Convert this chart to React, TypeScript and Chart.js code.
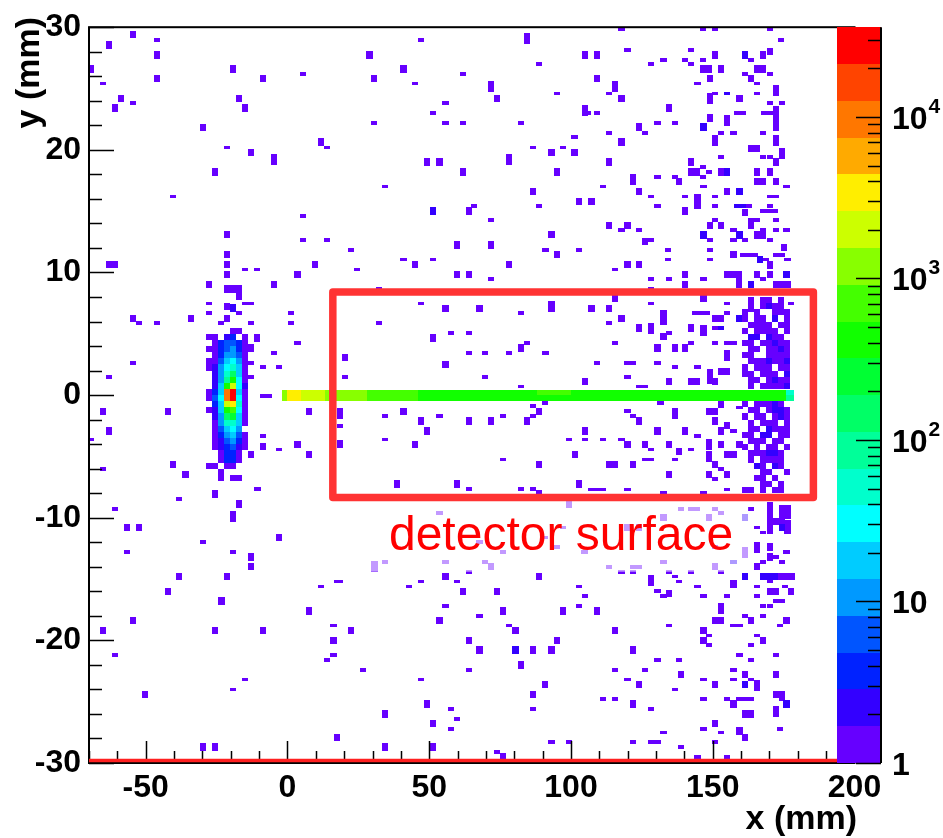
import React, { useEffect, useRef } from 'react';
import { Chart, registerables } from 'chart.js';

Chart.register(...registerables);

const FONT = '"Liberation Sans", Arial, Helvetica, sans-serif';

// ---------- axes ----------
const X_RANGE = [-70, 200];
const Y_RANGE = [-30, 30];
const X_TICKS = [-50, 0, 50, 100, 150, 200];
const Y_TICKS = [-30, -20, -10, 0, 10, 20, 30];
const X_MINOR_STEP = 10;
const Y_MINOR_STEP = 2;
const Z_MAX = 35970;
const Z_DECADES = [0, 1, 2, 3, 4];
const PALETTE = [
  '#6600ff', '#3300ff', '#0022ff', '#0055ff', '#0099ff',
  '#00ccff', '#00ffff', '#00ffcc', '#00ff99', '#00ff66',
  '#00ff33', '#11ff00', '#44ff00', '#88ff00', '#ccff00',
  '#ffee00', '#ffaa00', '#ff7700', '#ff4400', '#ff0000',
];

// ---------- histogram bins ----------
const BIN_W = 2.2;   // mm
const BIN_H = 0.3;   // mm

// target spot (counts), columns x, rows y
const CLUSTER_X = [-27.6, -25.5, -23.4, -21.3, -19.2, -17.1, -15.0];
const CLUSTER_Y = [5.25, 4.75, 4.25, 3.75, 3.25, 2.75, 2.25, 1.75, 1.25, 0.75, 0.25, -0.25, -0.75, -1.25, -1.75, -2.25, -2.75, -3.25, -3.75, -4.25, -4.75, -5.25, -5.75, -6.25, -6.75];
const CLUSTER_COUNTS = [
  [0, 0, 0, 0, 1, 1, 0],
  [1, 1, 0, 2, 4, 0, 1],
  [0, 1, 4, 6, 6, 4, 1],
  [1, 1, 4, 6, 10, 4, 1],
  [0, 1, 4, 10, 10, 6, 1],
  [1, 1, 6, 18, 30, 10, 1],
  [1, 2, 10, 30, 50, 18, 1],
  [0, 2, 10, 50, 150, 18, 1],
  [0, 2, 10, 90, 420, 30, 1],
  [0, 2, 18, 420, 2000, 30, 2],
  [1, 4, 18, 9500, 28000, 18, 1],
  [1, 6, 30, 9500, 24000, 30, 1],
  [0, 4, 18, 2000, 3400, 50, 1],
  [1, 2, 18, 420, 700, 30, 1],
  [0, 2, 10, 150, 250, 18, 1],
  [0, 1, 10, 50, 50, 18, 1],
  [0, 1, 6, 18, 30, 10, 0],
  [0, 1, 4, 10, 18, 6, 1],
  [0, 1, 2, 6, 10, 4, 1],
  [0, 1, 2, 4, 6, 2, 1],
  [0, 0, 1, 4, 4, 1, 0],
  [0, 0, 1, 4, 4, 1, 0],
  [1, 1, 0, 1, 1, 0, 0],
  [0, 0, 1, 0, 0, 0, 0],
  [0, 0, 1, 0, 1, 1, 0],
];
const CLUSTER_H = 0.5;

// beam track along y = 0 (run-length: x edges, counts per run)
const BEAM_EDGES = [-2, 0, 4.8, 13.2, 17.5, 28, 46, 88, 100, 176, 178.5];
const BEAM_UPPER = [1200, 3400, 2000, 1200, 1200, 700, 420, 700, 420, 50];
const BEAM_LOWER = [1200, 3400, 2000, 1200, 1200, 700, 420, 420, 420, 90];
const BEAM_Y_EDGES = [-0.47, -0.02, 0.43];

// dense hits near the detector end
const DENSE_X = [161.5, 163.6, 165.7, 167.8, 169.9, 172.0, 174.1, 176.2];
const DENSE_Y = [7.75, 7.25, 6.75, 6.25, 5.75, 5.25, 4.75, 4.25, 3.75, 3.25, 2.75, 2.25, 1.75, 1.25, 0.75,
  -0.75, -1.25, -1.75, -2.25, -2.75, -3.25, -3.75, -4.25, -4.75, -5.25, -5.75, -6.25, -6.75, -7.25, -7.75];
const DENSE_COUNTS = [
  [0, 1, 0, 1, 1, 0, 1, 0],
  [0, 1, 0, 1, 2, 1, 1, 0],
  [1, 0, 1, 0, 0, 1, 1, 1],
  [1, 0, 1, 1, 0, 2, 0, 1],
  [0, 1, 1, 1, 1, 0, 1, 1],
  [1, 0, 1, 1, 1, 1, 0, 1],
  [0, 2, 2, 0, 2, 1, 1, 0],
  [1, 1, 0, 1, 1, 2, 1, 1],
  [0, 1, 1, 0, 1, 1, 2, 1],
  [1, 1, 0, 0, 1, 1, 1, 1],
  [0, 1, 1, 1, 2, 1, 1, 2],
  [1, 0, 1, 1, 1, 0, 1, 1],
  [1, 1, 0, 1, 1, 1, 0, 2],
  [0, 1, 1, 0, 1, 2, 1, 1],
  [0, 1, 0, 1, 1, 1, 1, 2],
  [1, 0, 1, 1, 1, 2, 1, 0],
  [0, 1, 1, 0, 1, 2, 2, 1],
  [1, 0, 1, 1, 0, 1, 2, 1],
  [0, 1, 0, 1, 1, 1, 0, 1],
  [0, 1, 1, 0, 2, 1, 1, 1],
  [1, 1, 0, 2, 2, 0, 1, 1],
  [0, 1, 1, 1, 0, 1, 1, 0],
  [1, 0, 1, 0, 1, 1, 0, 1],
  [0, 1, 1, 1, 2, 2, 1, 0],
  [0, 1, 0, 1, 1, 1, 1, 0],
  [0, 0, 2, 1, 0, 2, 1, 0],
  [0, 0, 0, 1, 1, 0, 0, 1],
  [0, 0, 1, 1, 0, 1, 0, 0],
  [0, 0, 0, 1, 1, 0, 1, 0],
  [1, 1, 0, 1, 0, 1, 1, 0],
];
const DENSE_H = 0.5;

// scattered single hits: [x, y] (one bin)
const HITS_1: [number, number][] = [
  [-46.0, 28.95], [-65.1, 25.4], [5.6, 26.2], [-54.4, 23.8], [14.0, 20.2], [-21.3, 20.2], [-40.4, 16.2], [5.6, 14.6], [5.6, 12.66], [14.0, 12.66],
  [-15.0, 10.25], [-10.8, 10.25], [-17.1, 8.15], [-17.1, 7.9], [-15.0, 7.47], [-12.9, 7.47], [-27.7, 7.47], [-27.7, 6.67], [-17.1, 6.67], [1.35, 6.67],
  [-52.3, 5.86], [-46.0, 5.86], [-23.5, 5.86], [-12.9, 5.86], [1.35, 5.86], [3.5, 4.25], [-4.8, 3.44], [-54.4, 2.63], [-63.0, 1.5], [-8.6, 2.3],
  [-3.0, 2.3], [-12.9, 2.63], [-12.9, 1.5], [-8.6, -0.1], [-6.5, -0.1],
  [-69.2, -3.63], [-8.5, -3.33], [-2.9, -4.44], [-65.1, -6.05], [-10.6, -7.66], [-38.2, -8.47], [-60.8, -9.27], [-29.8, -12.0], [-56.6, -12.8], [-19.1, -12.8],
  [11.9, -15.6], [17.6, -15.2], [16.2, -18.8], [-60.8, -21.2], [16.2, -21.2], [14.0, -21.6], [-14.9, -23.2], [-19.1, -24.0],
  [47.2, 28.95], [88.8, 27.0], [62.0, 26.2], [45.1, 25.4], [95.2, 24.6], [55.7, 23.8], [51.4, 23.0], [30.6, 22.2], [55.7, 22.2], [62.0, 22.2],
  [82.5, 22.2], [101.2, 21.05], [86.7, 20.2], [97.3, 20.2], [34.5, 17.0], [65.9, 15.4], [88.8, 15.4], [71.9, 14.3], [22.5, 11.85], [91.0, 11.85],
  [102.9, 11.85], [40.9, 11.05], [51.4, 11.05], [24.6, 10.24], [71.9, 9.44], [32.4, 8.7], [47.2, 7.47], [82.5, 6.67], [32.4, 5.86], [57.8, 5.05],
  [64.1, 5.05], [84.6, 4.25], [64.1, 3.44], [69.8, 3.44], [78.2, 3.44], [91.0, 3.44], [20.4, 1.5], [69.8, 1.5], [82.5, 0.7],
  [86.7, -0.91], [86.7, -1.72], [18.5, -2.5], [34.5, -1.72], [53.6, -1.72], [76.1, -1.72], [34.5, -3.63], [99.4, -3.63], [105.0, -3.63], [76.1, -5.24],
  [64.1, -7.66], [82.5, -7.66], [86.7, -7.66], [88.8, -7.9], [53.6, -9.6], [97.3, -10.8], [90.9, -11.6], [95.2, -12.4], [76.1, -12.8], [67.7, -12.0],
  [34.5, -13.6], [55.7, -13.6], [69.8, -13.6], [104.8, -12.8], [18.5, -15.2], [64.1, -14.4], [43.0, -15.6], [47.2, -15.2], [59.9, -15.2], [102.9, -15.6],
  [105.0, -16.4], [55.7, -17.2], [67.7, -18.0], [102.9, -17.2], [78.2, -18.8], [26.7, -22.4], [64.1, -22.4], [47.2, -23.2], [57.8, -25.6], [86.7, -25.6],
  [59.9, -26.4], [57.8, -27.2], [74.0, -29.1], [93.1, -28.3], [99.4, -28.3],
  [117.8, 29.85], [146.6, 29.85], [150.8, 29.85], [170.1, 29.85], [174.0, 28.95], [119.9, 28.15], [142.4, 28.15], [163.6, 27.3], [128.3, 27.0], [132.6, 27.3],
  [140.3, 27.3], [142.4, 27.0], [146.6, 27.3], [161.5, 26.2], [170.1, 26.2], [144.6, 25.4], [165.7, 25.4], [113.5, 24.6], [150.8, 24.6], [165.7, 24.6],
  [170.1, 23.8], [174.3, 23.8], [172.2, 23.4], [172.2, 23.15], [172.2, 22.9], [172.2, 22.65], [172.2, 22.4], [172.2, 22.15], [172.2, 21.9], [172.2, 21.65],
  [168.0, 23.0], [170.1, 23.0], [106.0, 23.0], [109.3, 23.0], [158.6, 23.0], [160.7, 23.0], [130.5, 22.2], [136.8, 22.2], [126.2, 21.4], [113.5, 21.4],
  [153.0, 21.4], [157.3, 21.4], [167.8, 21.4], [167.8, 19.4], [170.1, 19.4], [153.0, 19.4], [146.6, 18.6], [146.6, 17.8], [148.7, 18.2], [130.5, 17.8],
  [136.8, 17.8], [111.4, 17.0], [146.7, 17.0], [176.0, 17.0], [128.3, 16.2], [140.3, 16.2], [150.8, 16.2], [170.1, 16.2], [172.2, 16.2], [130.5, 15.4],
  [150.8, 15.4], [162.7, 15.4], [161.5, 15.0], [161.5, 14.75], [167.8, 15.0], [169.9, 15.0], [172.0, 15.0], [170.1, 15.4], [150.8, 14.3], [163.6, 14.3],
  [165.7, 14.3], [172.2, 14.3], [117.8, 13.45], [124.1, 13.45], [157.3, 13.45], [167.8, 13.45], [172.2, 13.45], [176.0, 13.45], [148.9, 12.66], [157.3, 12.66],
  [161.5, 12.66], [170.1, 12.66], [126.2, 12.66], [126.2, 12.4], [128.3, 12.66], [134.2, 11.85], [148.9, 11.85], [160.6, 11.45], [162.7, 11.45], [164.8, 11.45],
  [168.9, 11.05], [172.2, 11.45], [174.3, 11.45], [176.4, 11.05], [134.2, 11.05], [148.9, 11.05], [115.6, 10.24], [128.3, 9.44], [134.7, 9.44], [146.7, 9.44],
  [159.3, 9.44], [167.8, 9.44], [128.3, 8.7], [128.3, 7.47], [155.1, 7.47], [167.8, 7.47], [177.5, 7.47], [113.5, 5.86], [143.9, 6.67], [146.0, 6.67],
  [148.1, 6.67], [155.1, 6.67], [134.7, 5.05], [150.8, 5.46], [115.6, 4.25], [142.4, 4.25], [150.8, 4.25], [155.1, 4.25], [157.3, 4.25], [109.3, 2.63],
  [119.9, 2.63], [122.0, 2.63], [130.5, 2.63], [136.8, 2.3], [144.6, 2.3], [119.9, 1.5], [124.1, 0.7], [126.2, 0.7],
  [119.9, -1.32], [122.0, -1.72], [144.6, -3.33], [111.4, -3.63], [117.8, -3.63], [128.3, -4.44], [142.4, -4.44], [136.8, -5.24], [126.2, -5.24], [128.3, -5.24],
  [153.0, -6.0], [150.8, -6.85], [159.4, -1.0], [157.3, -2.93], [107.2, -7.7], [109.5, -7.7], [111.4, -7.7], [119.9, -7.7], [132.6, -8.0], [146.7, -8.0],
  [155.1, -7.7], [138.9, -9.3], [142.4, -9.3], [144.5, -9.3], [150.8, -9.3], [153.0, -9.6], [113.5, -14.0], [122.0, -14.0], [124.1, -14.0], [132.6, -13.6],
  [150.8, -12.4], [163.6, -9.3], [165.7, -10.8], [167.8, -11.2], [172.2, -13.2], [174.3, -13.6], [176.0, -12.8], [167.8, -13.6], [170.1, -15.2], [153.0, -14.4],
  [142.4, -14.4], [134.7, -14.4], [117.8, -14.4], [122.0, -14.4], [136.8, -14.8], [138.2, -15.2], [144.6, -15.6], [165.7, -15.6], [175.4, -15.6], [130.5, -16.0],
  [132.6, -16.4], [146.7, -16.4], [155.1, -16.4], [165.7, -16.4], [172.2, -16.8], [174.3, -16.8], [167.8, -17.2], [170.1, -17.2], [161.5, -18.0], [167.8, -18.0],
  [173.8, -18.8], [157.3, -18.8], [159.4, -18.8], [134.7, -18.8], [148.8, -19.6], [165.7, -19.6], [148.8, -20.4], [163.6, -20.4], [130.5, -21.6], [138.2, -21.6],
  [159.4, -21.2], [163.6, -21.6], [172.2, -21.2], [115.6, -22.4], [126.2, -22.4], [157.3, -22.4], [119.9, -23.2], [146.7, -23.2], [157.3, -23.2], [163.6, -23.2],
  [136.8, -24.0], [111.4, -24.8], [115.6, -24.8], [128.3, -25.6], [146.7, -24.8], [155.1, -24.8], [159.4, -24.8], [161.5, -24.8], [163.6, -24.8], [174.3, -24.8],
  [146.7, -27.2], [153.0, -27.5], [173.8, -27.2], [132.6, -27.5], [122.0, -28.3], [128.3, -28.3], [130.5, -28.3], [138.9, -28.7], [150.8, -28.3], [144.6, -29.5],
  [155.1, -29.5],
];

// hits in two stacked bins: [x, y centre]
const HITS_2: [number, number][] = [
  [-54.4, 29.4], [-63.0, 28.55], [-46.0, 27.74], [-69.2, 26.6], [-46.0, 25.8], [-19.2, 26.6], [-8.6, 25.8], [-58.7, 24.2], [-60.8, 23.4], [-17.1, 24.2],
  [-15.0, 23.4], [-29.8, 21.8], [11.9, 20.65], [-12.9, 19.8], [-25.6, 18.2], [-21.3, 13.1], [-21.3, 11.45], [-62.9, 10.65], [-60.8, 10.65], [-21.3, 10.65],
  [9.8, 10.65], [-21.3, 9.84], [3.5, 9.84], [-27.7, 9.03], [-4.8, 9.03], [-21.3, 8.65], [-19.2, 8.65], [-17.1, 8.65], [-21.3, 7.2], [-54.4, 6.27],
  [-34.0, 6.27], [-21.3, 6.27], [-10.8, 4.65], [-12.9, 3.84],
  [-65.1, -1.32], [-42.2, -1.32], [7.7, -1.32], [-63.0, -2.93], [-8.5, -4.2], [3.5, -4.03], [7.7, -4.84], [-12.8, -4.84], [-40.4, -5.65], [-36.0, -6.45],
  [-25.6, -8.06], [-17.0, -8.87], [-56.6, -10.8], [-52.4, -10.8], [-2.9, -11.6], [-12.8, -13.2], [-12.8, -14.0], [-38.2, -14.8], [-21.2, -14.8], [-42.2, -16.0],
  [-23.3, -16.8], [7.7, -17.6], [-54.4, -18.4], [-65.1, -19.2], [-25.6, -19.2], [-8.5, -19.2], [16.2, -20.0], [-50.3, -24.4], [17.6, -27.9], [-29.8, -28.7],
  [-25.6, -28.7],
  [28.9, 27.74], [105.0, 27.74], [40.9, 26.6], [30.6, 25.8], [74.0, 24.2], [93.1, 19.8], [101.2, 19.8], [49.3, 19.0], [53.6, 19.0], [62.0, 18.2],
  [95.2, 18.2], [86.7, 16.6], [102.9, 15.8], [64.1, 15.0], [93.1, 13.07], [59.9, 12.25], [71.9, 12.25], [95.2, 11.45], [45.1, 10.65], [78.2, 10.65],
  [59.9, 9.84], [64.1, 9.84], [55.7, 7.07], [67.7, 7.07], [51.4, 4.65], [82.5, 3.84], [20.4, 3.04], [55.7, 2.5], [105.0, 1.1],
  [90.9, -0.51], [88.8, -1.32], [84.6, -2.12], [18.5, -4.0], [40.9, -1.32], [47.2, -2.12], [49.3, -2.93], [64.1, -2.12], [71.9, -2.12], [45.1, -4.03],
  [105.0, -2.93], [101.3, -4.84], [88.8, -5.65], [38.7, -7.26], [59.9, -7.26], [102.9, -7.26], [99.4, -8.93], [71.9, -14.0], [55.7, -14.8], [62.0, -16.0],
  [74.0, -16.0], [88.8, -14.8], [53.6, -18.4], [76.1, -17.6], [97.3, -17.6], [22.5, -19.2], [80.4, -19.2], [64.1, -20.0], [67.7, -20.8], [86.7, -20.8],
  [93.1, -20.8], [95.2, -20.0], [82.5, -22.0], [90.9, -23.6], [86.7, -24.4], [49.3, -25.2], [34.5, -26.0], [51.4, -26.8], [34.5, -28.7], [51.4, -28.7],
  [76.1, -29.5],
  [109.3, 27.74], [150.8, 27.74], [167.8, 27.74], [170.1, 28.0], [146.6, 26.6], [148.7, 26.6], [153.0, 26.6], [165.7, 26.6], [167.8, 26.6], [163.6, 25.8],
  [109.3, 25.8], [148.9, 25.8], [117.8, 24.2], [159.4, 24.2], [134.7, 23.4], [148.9, 22.6], [124.1, 21.85], [117.8, 20.65], [163.6, 20.1], [165.7, 20.1],
  [172.2, 19.0], [113.5, 19.0], [142.4, 19.0], [142.4, 18.2], [144.5, 18.2], [153.0, 18.2], [165.7, 18.2], [170.1, 18.2], [138.2, 17.4], [165.7, 17.4],
  [167.8, 17.4], [172.2, 17.4], [124.1, 16.6], [155.1, 16.6], [107.2, 15.8], [140.3, 15.0], [113.5, 13.85], [119.9, 13.85], [148.9, 13.85], [153.0, 13.85],
  [163.6, 13.85], [165.7, 13.05], [167.8, 13.05], [175.1, 12.05], [157.3, 11.45], [170.1, 10.6], [119.9, 10.65], [124.1, 10.65], [140.3, 9.84], [140.3, 9.03],
  [155.1, 9.84], [157.2, 9.84], [159.3, 9.84], [159.3, 9.03], [165.7, 9.84], [170.1, 9.84], [172.2, 9.03], [174.3, 9.03], [176.4, 9.03], [115.6, 7.88],
  [107.2, 7.07], [113.5, 7.07], [146.7, 7.88], [117.8, 6.27], [150.8, 6.27], [153.0, 6.27], [124.1, 5.46], [132.6, 4.8], [142.4, 5.46], [130.5, 3.84],
  [136.8, 3.84], [140.3, 3.84], [134.7, 1.1], [142.4, 1.1], [144.5, 1.1], [150.8, 1.1], [153.0, 1.9], [155.1, 1.9],
  [131.6, -0.51], [124.1, -2.12], [130.5, -2.93], [140.3, -2.93], [119.9, -4.03], [126.2, -4.03], [134.7, -4.03], [138.2, -4.6], [113.5, -5.65], [115.6, -5.65],
  [122.0, -5.65], [134.7, -6.45], [153.0, -4.03], [150.8, -5.65], [155.1, -4.84], [157.3, -4.84], [155.1, -6.45], [148.8, -6.45], [153.0, -2.93], [155.1, -2.5],
  [148.8, -1.32], [150.8, -1.32], [150.8, -2.12], [159.4, -4.03], [132.6, -10.0], [148.8, -10.0], [119.9, -10.8], [124.1, -10.8], [150.8, -14.0],
  [170.1, -9.0], [170.1, -9.5], [170.1, -10.0], [170.1, -10.5], [170.1, -11.0], [174.3, -9.3], [176.4, -9.3], [174.3, -9.8], [176.4, -9.8], [172.2, -10.3],
  [174.3, -10.3], [176.4, -10.5], [176.4, -11.0], [170.1, -12.4], [170.1, -13.2], [165.7, -14.0], [174.1, -14.8], [176.2, -14.8], [178.0, -14.8], [157.3, -15.4],
  [170.1, -16.0], [172.2, -16.0], [177.7, -16.0], [134.7, -16.2], [109.3, -17.6], [150.8, -18.4], [153.0, -18.4], [163.6, -18.4], [176.0, -18.4], [115.6, -19.2],
  [146.7, -19.2], [146.7, -20.0], [167.8, -20.0], [122.0, -20.8], [138.7, -22.8], [161.5, -22.8], [172.2, -22.8], [124.1, -23.6], [150.8, -23.6], [122.0, -25.2],
  [157.3, -25.2], [161.5, -26.0], [163.6, -26.0], [172.2, -24.4], [174.3, -24.4], [150.8, -26.8], [159.4, -27.4], [161.5, -27.9],
];

// hits in three stacked bins
const HITS_3: [number, number][] = [
  [-4.8, 19.2], [-19.1, -9.9], [84.6, 29.1], [71.9, 25.15], [105.0, 23.2], [78.2, 19.2], [93.1, 7.25], [18.5, -1.53], [30.7, -14.0], [115.6, 25.15],
  [148.9, 24.2], [172.2, 24.8], [155.1, 22.4], [150.8, 20.8], [172.2, 20.8], [174.3, 19.7], [122.0, 17.55], [163.6, 7.25], [128.3, 5.4], [146.7, 5.3],
  [155.1, 3.2], [136.8, -1.53], [148.8, -4.0], [148.8, -5.0], [153.0, -0.6], [165.7, -12.4], [128.3, -15.1], [153.0, -17.4], [165.7, -23.7], [172.2, -25.8],
  [161.5, -12.8],
];

// hits in four stacked bins
const HITS_4: [number, number][] = [[144.6, 15.8], [132.6, 6.3], [148.9, 1.5]];

// bins with two counts (blue), two stacked bins / one bin
const HITS_2_DOUBLE: [number, number][] = [
  [-19.2, 7.1], [51.4, 15.0], [80.4, -20.8], [161.5, 27.74], [146.7, 21.85], [155.1, 18.2], [159.4, 16.6], [146.7, 13.05], [159.4, 13.05], [166.8, 11.05],
  [163.6, 9.03], [176.0, 9.84], [159.4, 6.27], [161.5, -14.8], [167.8, -14.8], [169.9, -14.8], [172.0, -14.8], [161.5, -23.6], [176.0, -25.2], [174.3, -10.8],
  [161.5, -10.0],
];
const HITS_1_DOUBLE: [number, number][] = [[155.1, 24.6], [158.5, 15.4], [160.6, 15.4], [153.0, 5.46], [157.3, -13.6]];

// annotations (data units)
const DETECTOR_BOX = { x0: 16, x1: 185.5, y0: -8.35, y1: 8.4 };
const DETECTOR_LABEL = { text: 'detector surface', x: 96.5, y: -12.66 };
const LABEL_BACKDROP = { x0: 29, x1: 162.5, y0: -14.4, y1: -8.6 };

// ---------- helpers ----------
const STEP = Math.log10(Z_MAX) / PALETTE.length;
function colorFor(n: number) {
  let k = Math.floor(Math.log10(Math.max(n, 1)) / STEP + 1e-9);
  if (k < 0) k = 0;
  if (k > PALETTE.length - 1) k = PALETTE.length - 1;
  return PALETTE[k];
}

function cell(ctx: CanvasRenderingContext2D, xs: any, ys: any, x0: number, x1: number, y0: number, y1: number, color: string) {
  const l = Math.round(xs.getPixelForValue(x0));
  const r = Math.round(xs.getPixelForValue(x1));
  const t = Math.round(ys.getPixelForValue(y1));
  const b = Math.round(ys.getPixelForValue(y0));
  ctx.fillStyle = color;
  ctx.fillRect(l, t, Math.max(1, r - l), Math.max(1, b - t));
}

function drawHits(ctx: CanvasRenderingContext2D, xs: any, ys: any, list: [number, number][], bins: number, count: number) {
  const c = colorFor(count);
  for (const [x, y] of list) {
    cell(ctx, xs, ys, x - BIN_W / 2, x + BIN_W / 2, y - (bins * BIN_H) / 2, y + (bins * BIN_H) / 2, c);
  }
}

const histPlugin = {
  id: 'hist2d',
  beforeDraw(chart: any) {
    const { ctx, width, height } = chart;
    ctx.save();
    ctx.fillStyle = '#ffffff';
    ctx.fillRect(0, 0, width, height);
    ctx.restore();
  },
  afterDatasetsDraw(chart: any) {
    const { ctx, chartArea: a, scales } = chart;
    const xs = scales.x, ys = scales.y, zs = scales.z;
    ctx.save();
    ctx.beginPath();
    ctx.rect(a.left, a.top, a.right - a.left, a.bottom - a.top);
    ctx.clip();

    // scattered hits
    drawHits(ctx, xs, ys, HITS_1, 1, 1);
    drawHits(ctx, xs, ys, HITS_2, 2, 1);
    drawHits(ctx, xs, ys, HITS_3, 3, 1);
    drawHits(ctx, xs, ys, HITS_4, 4, 1);
    drawHits(ctx, xs, ys, HITS_2_DOUBLE, 2, 2);
    drawHits(ctx, xs, ys, HITS_1_DOUBLE, 1, 2);

    // dense block
    DENSE_Y.forEach((y, r) => {
      DENSE_X.forEach((x, c) => {
        const n = DENSE_COUNTS[r][c];
        if (n > 0) cell(ctx, xs, ys, x - BIN_W / 2, x + BIN_W / 2, y - DENSE_H / 2, y + DENSE_H / 2, colorFor(n));
      });
    });

    // target spot
    CLUSTER_Y.forEach((y, r) => {
      CLUSTER_X.forEach((x, c) => {
        const n = CLUSTER_COUNTS[r][c];
        if (n > 0) cell(ctx, xs, ys, x - BIN_W / 2, x + BIN_W / 2, y - CLUSTER_H / 2, y + CLUSTER_H / 2, colorFor(n));
      });
    });

    // beam track
    for (let i = 0; i < BEAM_UPPER.length; i++) {
      cell(ctx, xs, ys, BEAM_EDGES[i], BEAM_EDGES[i + 1], BEAM_Y_EDGES[1], BEAM_Y_EDGES[2], colorFor(BEAM_UPPER[i]));
      cell(ctx, xs, ys, BEAM_EDGES[i], BEAM_EDGES[i + 1], BEAM_Y_EDGES[0], BEAM_Y_EDGES[1], colorFor(BEAM_LOWER[i]));
    }

    // translucent backdrop of the label
    {
      const l = xs.getPixelForValue(LABEL_BACKDROP.x0), r = xs.getPixelForValue(LABEL_BACKDROP.x1);
      const t = ys.getPixelForValue(LABEL_BACKDROP.y1), b = ys.getPixelForValue(LABEL_BACKDROP.y0);
      ctx.fillStyle = 'rgba(255,255,255,0.6)';
      ctx.fillRect(l, t, r - l, b - t);
    }

    // detector box
    {
      const l = xs.getPixelForValue(DETECTOR_BOX.x0), r = xs.getPixelForValue(DETECTOR_BOX.x1);
      const t = ys.getPixelForValue(DETECTOR_BOX.y1), b = ys.getPixelForValue(DETECTOR_BOX.y0);
      ctx.strokeStyle = '#ff3333';
      ctx.lineWidth = 7.5;
      ctx.lineJoin = 'round';
      ctx.strokeRect(l, t, r - l, b - t);
    }
    // label
    ctx.fillStyle = '#ff0000';
    ctx.font = `48px ${FONT}`;
    ctx.textAlign = 'center';
    ctx.textBaseline = 'alphabetic';
    ctx.fillText(DETECTOR_LABEL.text, xs.getPixelForValue(DETECTOR_LABEL.x), ys.getPixelForValue(DETECTOR_LABEL.y));
    ctx.restore();

    // ---------- frame & ticks ----------
    ctx.save();
    ctx.strokeStyle = '#000';
    ctx.lineWidth = 2;
    ctx.strokeRect(a.left, a.top, a.right - a.left, a.bottom - a.top);
    ctx.lineWidth = 1.5;
    ctx.beginPath();
    for (let v = X_RANGE[0]; v <= X_RANGE[1]; v += X_MINOR_STEP) {
      const p = Math.round(xs.getPixelForValue(v)) + 0.5;
      const len = v % 50 === 0 ? 22 : 12;
      ctx.moveTo(p, a.bottom);
      ctx.lineTo(p, a.bottom - len);
    }
    for (let v = Y_RANGE[0]; v <= Y_RANGE[1]; v += Y_MINOR_STEP) {
      const p = Math.round(ys.getPixelForValue(v)) + 0.5;
      const len = v % 10 === 0 ? 25 : 13;
      ctx.moveTo(a.left, p);
      ctx.lineTo(a.left + len, p);
    }
    ctx.stroke();
    // red line along the lower edge
    ctx.strokeStyle = '#ff2020';
    ctx.lineWidth = 3.5;
    ctx.beginPath();
    const ry = ys.getPixelForValue(Y_RANGE[0]) - 2.5;
    ctx.moveTo(a.left, ry);
    ctx.lineTo(a.right, ry);
    ctx.stroke();

    // ---------- colour palette ----------
    const pl = Math.round(a.right - 17.5), pr = Math.round(a.right + 26.5);
    for (let k = 0; k < PALETTE.length; k++) {
      const lo = Math.pow(10, k * STEP), hi = Math.pow(10, (k + 1) * STEP);
      const t = Math.round(zs.getPixelForValue(hi)), b = Math.round(zs.getPixelForValue(lo));
      ctx.fillStyle = PALETTE[k];
      ctx.fillRect(pl, t, pr - pl, b - t);
    }
    ctx.strokeStyle = '#000';
    ctx.lineWidth = 2;
    ctx.beginPath();
    ctx.moveTo(pr, zs.getPixelForValue(Z_MAX));
    ctx.lineTo(pr, zs.getPixelForValue(1));
    ctx.stroke();
    ctx.lineWidth = 1.5;
    ctx.beginPath();
    for (const d of Z_DECADES) {
      for (let m = 1; m <= 9; m++) {
        const v = m * Math.pow(10, d);
        if (v > Z_MAX) break;
        const p = Math.round(zs.getPixelForValue(v)) + 0.5;
        const len = m === 1 ? 25 : 13;
        ctx.moveTo(pr, p);
        ctx.lineTo(pr - len, p);
      }
    }
    ctx.stroke();
    ctx.fillStyle = '#000';
    ctx.textAlign = 'left';
    ctx.textBaseline = 'middle';
    for (const d of Z_DECADES) {
      const p = zs.getPixelForValue(Math.pow(10, d)) + 3;
      const lx = pr + 11;
      ctx.font = `bold 32px ${FONT}`;
      if (d === 0) {
        ctx.fillText('1', lx, p);
      } else {
        ctx.fillText('10', lx, p);
        if (d > 1) {
          const w = ctx.measureText('10').width;
          ctx.font = `bold 21px ${FONT}`;
          ctx.fillText(String(d), lx + w + 1, p - 13);
        }
      }
    }

    // axis titles
    ctx.font = `bold 34px ${FONT}`;
    ctx.textAlign = 'right';
    ctx.textBaseline = 'alphabetic';
    ctx.fillText('x (mm)', 857, 829);
    ctx.translate(30, 17);
    ctx.rotate(-Math.PI / 2);
    ctx.textBaseline = 'middle';
    ctx.fillText('y (mm)', 0, 0);
    ctx.restore();
  },
};

export default function App() {
  const ref = useRef<HTMLCanvasElement>(null);
  useEffect(() => {
    if (!ref.current) return;
    const chart = new Chart(ref.current, {
      type: 'scatter',
      data: { datasets: [{ data: [], pointRadius: 0 }] },
      options: {
        animation: false,
        responsive: false,
        devicePixelRatio: 1,
        layout: { padding: { left: 0, right: 88.5, top: 19, bottom: 0 } },
        plugins: { legend: { display: false }, tooltip: { enabled: false } },
        scales: {
          x: {
            type: 'linear',
            min: X_RANGE[0],
            max: X_RANGE[1],
            grid: { display: false, drawTicks: false },
            border: { display: false },
            afterBuildTicks: (s: any) => { s.ticks = X_TICKS.map((v) => ({ value: v })); },
            afterFit: (s: any) => { s.height = 75; },
            ticks: { color: '#000', padding: 6, maxRotation: 0, autoSkip: false, font: { family: FONT, size: 32, weight: 'bold' } },
          },
          y: {
            type: 'linear',
            min: Y_RANGE[0],
            max: Y_RANGE[1],
            grid: { display: false, drawTicks: false },
            border: { display: false },
            afterBuildTicks: (s: any) => { s.ticks = Y_TICKS.map((v) => ({ value: v })); },
            afterFit: (s: any) => { s.width = 89; },
            ticks: { color: '#000', padding: 8, autoSkip: false, font: { family: FONT, size: 32, weight: 'bold' } },
          },
          z: {
            type: 'logarithmic',
            position: 'right',
            display: false,
            min: 1,
            max: Z_MAX,
          },
        },
      } as any,
      plugins: [histPlugin],
    });
    return () => chart.destroy();
  }, []);
  return (
    <div style={{ position: 'absolute', left: 0, top: 0, width: 943, height: 838, background: '#fff' }}>
      <canvas ref={ref} width={943} height={838} style={{ display: 'block' }} />
    </div>
  );
}
